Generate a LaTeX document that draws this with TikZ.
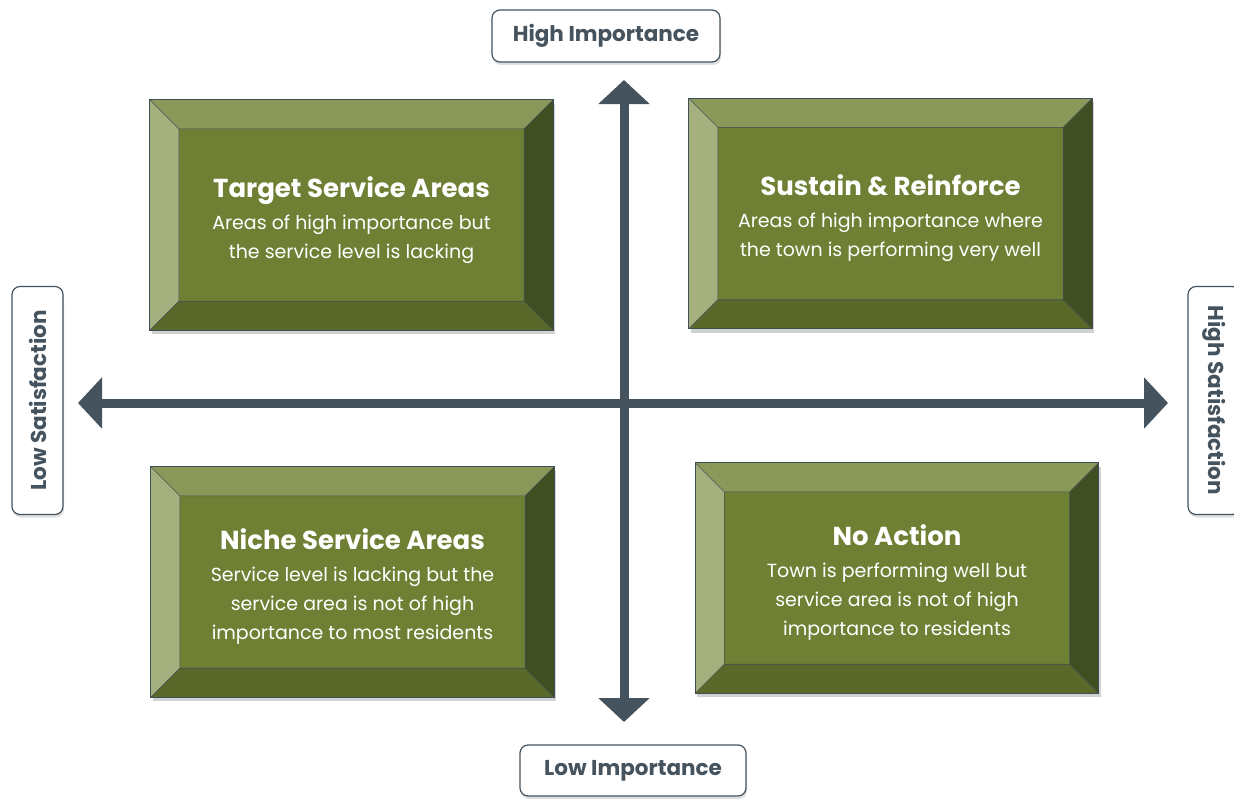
\documentclass[tikz,border=0pt]{standalone}
\usepackage{fontspec}
\setmainfont{Poppins}
\usetikzlibrary{calc,arrows.meta,shadows}

\definecolor{slate}{HTML}{45535E}
\definecolor{face}{HTML}{6F8034}
\definecolor{bvtop}{HTML}{8A995A}
\definecolor{bvleft}{HTML}{A5B07E}
\definecolor{bvbot}{HTML}{5A692A}
\definecolor{bvright}{HTML}{414E22}
\definecolor{rim}{HTML}{3F4F55}

\newcommand{\qtitle}[1]{{\fontsize{26}{30}\selectfont\bfseries #1}\\[3pt]}

\begin{document}
\begin{tikzpicture}[x=1pt,y=-1pt,
    quad/.style={minimum width=403pt, minimum height=230pt},
    qtext/.style={align=center, text=white, font=\fontsize{19}{29}\selectfont},
    axislabel/.style={draw=slate, fill=white, rounded corners=8pt, line width=1.2pt,
        minimum width=228pt, minimum height=52pt, text=slate,
        font=\fontsize{21.5}{25}\selectfont\bfseries,
        drop shadow={opacity=0.25, shadow xshift=1pt, shadow yshift=-3pt}},
    axis/.style={slate, line width=9pt, {Triangle[width=50pt,length=24pt]}-{Triangle[width=50pt,length=24pt]}}
]
\useasboundingbox (0,0) rectangle (1234,800);

%-----quadrants
\node[quad] (TSA) at (351.5,215) {};
\node[quad] (SR)  at (890.5,213.5) {};
\node[quad] (NSA) at (352.5,582) {};
\node[quad] (NA)  at (897,578) {};

%-----bevels
\foreach \n in {TSA,SR,NSA,NA}{
    \coordinate (a) at ($(\n.north west)+(29,29)$);
    \coordinate (b) at ($(\n.north east)+(-29,29)$);
    \coordinate (c) at ($(\n.south east)+(-29,-29)$);
    \coordinate (d) at ($(\n.south west)+(29,-29)$);
    \fill[black, opacity=0.18] ($(\n.north west)+(2,4)$) rectangle ($(\n.south east)+(2,4)$);
    \fill[bvtop] (\n.north west) -- (\n.north east) -- (b) -- (a) -- cycle;
    \fill[bvleft] (\n.north west) -- (a) -- (d) -- (\n.south west) -- cycle;
    \fill[bvbot] (\n.south west) -- (d) -- (c) -- (\n.south east) -- cycle;
    \fill[bvright] (\n.north east) -- (\n.south east) -- (c) -- (b) -- cycle;
    \fill[face] (a) rectangle (c);
    \draw[rim, line width=0.6pt] (\n.north west) -- (a) (\n.north east) -- (b)
        (\n.south east) -- (c) (\n.south west) -- (d) (a) rectangle (c);
    \draw[rim, line width=1pt] (\n.north west) rectangle (\n.south east);
}

%-----texts
\node[qtext] (TSA-t) at ($(TSA)+(0,5)$) {\qtitle{Target Service Areas}Areas of high importance but\\the service level is lacking};
\node[qtext] (SR-t)  at ($(SR)+(0,5)$) {\qtitle{Sustain \& Reinforce}Areas of high importance where\\the town is performing very well};
\node[qtext] (NSA-t) at ($(NSA)+(0,5)$) {\qtitle{Niche Service Areas}Service level is lacking but the\\service area is not of high\\importance to most residents};
\node[qtext] (NA-t)  at ($(NA)+(0,5)$) {\qtitle{No Action}Town is performing well but\\service area is not of high\\importance to residents};

%-----axes
\coordinate (top) at (624,80);
\coordinate (bot) at (624,722);
\coordinate (lft) at (78,403);
\coordinate (rgt) at (1168,403);
\draw[axis] (bot) -- (top);
\draw[axis] (lft) -- (rgt);

%-----axis labels
\node[axislabel] (HI) at (606,36) {High Importance};
\node[axislabel, minimum width=226pt, minimum height=51pt] (LI) at (633,770.5) {Low Importance};
\node[axislabel, rotate=90, minimum height=51pt] (LS) at (37.5,400.5) {Low Satisfaction};
\node[axislabel, rotate=-90] (HS) at (1214,400.5) {High Satisfaction};

\end{tikzpicture}
\end{document}
